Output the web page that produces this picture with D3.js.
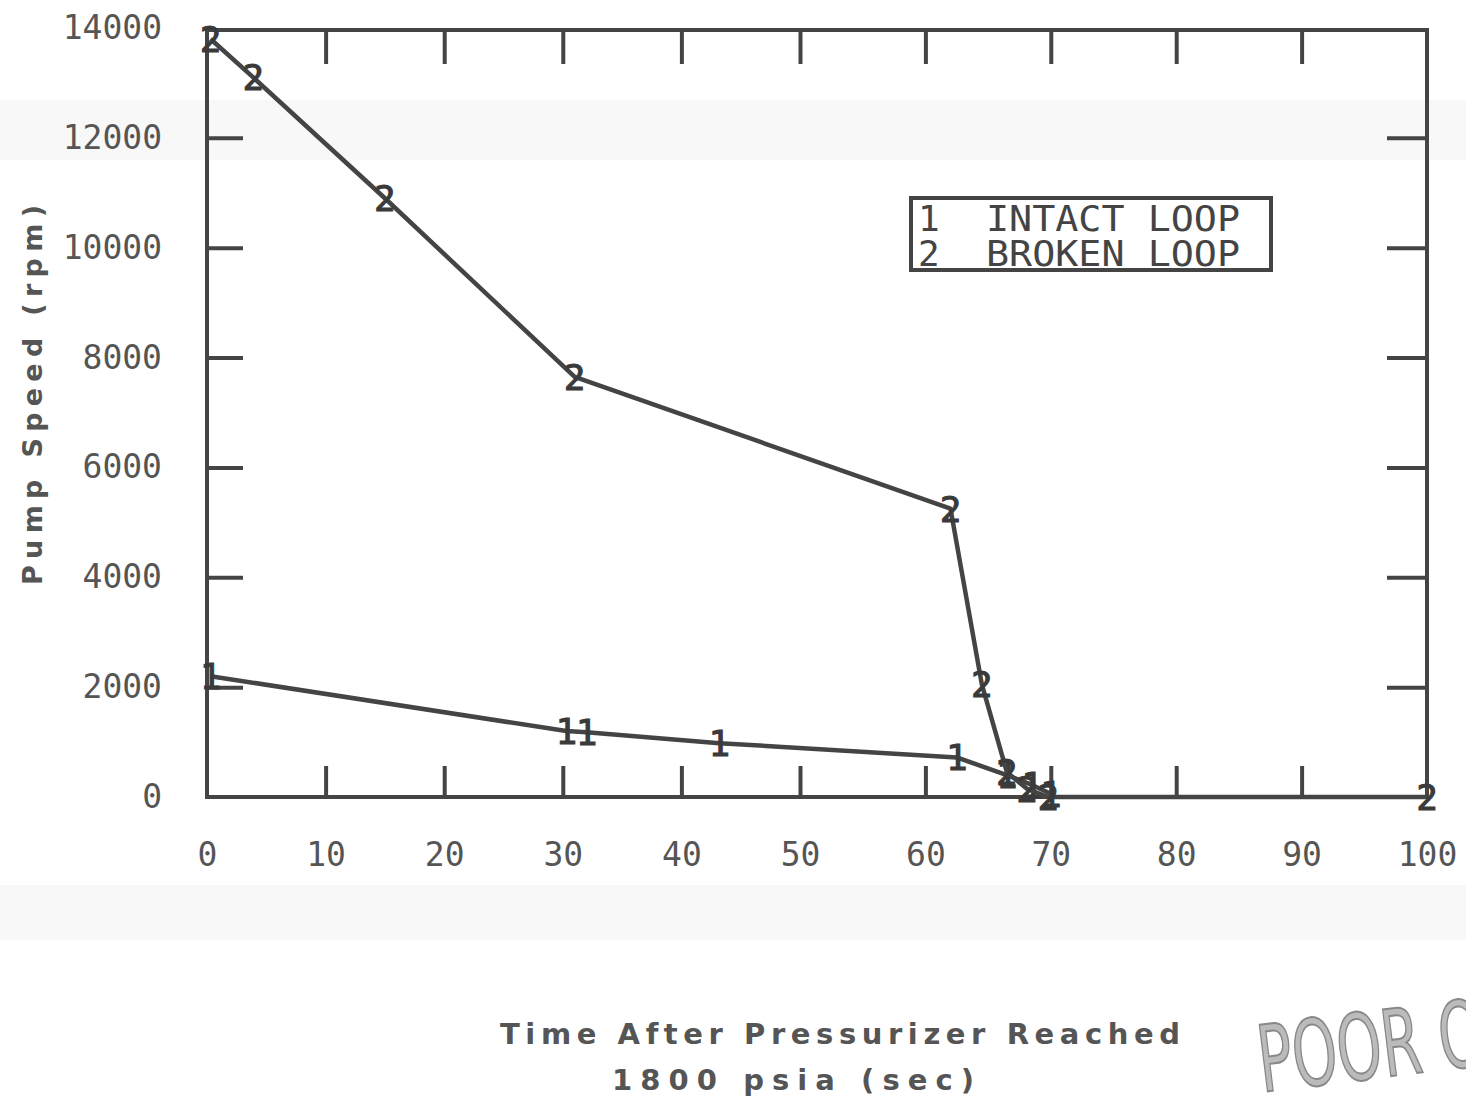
<!DOCTYPE html>
<html>
<head>
<meta charset="utf-8">
<script src="https://cdn.jsdelivr.net/npm/d3@7"></script>
<style>
  html, body { margin: 0; padding: 0; background: #fff; }
  svg { display: block; }
</style>
</head>
<body>
<svg id="chart" width="1466" height="1096"></svg>
<script>
// ---- data ----
const xTicks = [0, 10, 20, 30, 40, 50, 60, 70, 80, 90, 100];
const yTicks = [0, 2000, 4000, 6000, 8000, 10000, 12000, 14000];
const seriesNames = ["INTACT LOOP", "BROKEN LOOP"];
const seriesMarks = ["1", "2"];
const intactTime  = [0.3, 30.3, 32.0, 43.2, 62.5, 66.5, 68.5, 70.0];
const intactSpeed = [2200, 1200, 1180, 980, 720, 400, 220, 60];
const brokenTime  = [0.3, 3.9, 15.0, 31.0, 62.0, 64.5, 66.5, 68.1, 69.8, 100];
const brokenSpeed = [13800, 13100, 10900, 7650, 5250, 2050, 450, 150, 0, 0];
const xTitle1 = "Time After Pressurizer Reached";
const xTitle2 = "1800 psia (sec)";
const yTitle = "Pump Speed (rpm)";

const svg = d3.select("#chart");
const ink = "#444";
const mono = "'DejaVu Sans Mono', 'Liberation Mono', monospace";

// faint scan bands
svg.append("rect").attr("x", 0).attr("y", 100).attr("width", 1466).attr("height", 60).attr("fill", "#f8f8f8");
svg.append("rect").attr("x", 0).attr("y", 885).attr("width", 1466).attr("height", 55).attr("fill", "#f8f8f8");

const x = d3.scaleLinear().domain([0, 50, 100]).range([207, 800, 1427]);
const y = d3.scaleLinear().domain([0, 14000]).range([797, 28]);

// frame
svg.append("rect")
  .attr("x", x(0)).attr("y", y(14000) + 2)
  .attr("width", x(100) - x(0)).attr("height", y(0) - y(14000) - 2)
  .attr("fill", "none").attr("stroke", ink).attr("stroke-width", 4);

function styleAxis(g) {
  g.select(".domain").remove();
  g.selectAll(".tick line").attr("stroke", ink).attr("stroke-width", 4);
  g.selectAll(".tick text").attr("fill", "#555").attr("font-family", mono).attr("font-size", 33);
}

const inner = xTicks.slice(1, -1);
const innerY = yTicks.slice(1, -1);

// bottom axis with labels
svg.append("g").attr("transform", `translate(0,${y(0)})`)
  .call(d3.axisBottom(x).tickValues(xTicks).tickFormat(d3.format("d")).tickSizeInner(0).tickSizeOuter(0).tickPadding(46))
  .call(styleAxis);
svg.append("g").attr("transform", `translate(0,${y(0)})`)
  .call(d3.axisBottom(x).tickValues(inner).tickFormat("").tickSizeInner(-31).tickSizeOuter(0))
  .call(styleAxis);
// top ticks
svg.append("g").attr("transform", `translate(0,${y(14000) + 2})`)
  .call(d3.axisTop(x).tickValues(inner).tickFormat("").tickSizeInner(-34).tickSizeOuter(0))
  .call(styleAxis);
// left axis with labels
svg.append("g").attr("transform", `translate(${x(0)},0)`)
  .call(d3.axisLeft(y).tickValues(yTicks).tickFormat(d3.format("d")).tickSizeInner(0).tickSizeOuter(0).tickPadding(45))
  .call(styleAxis);
svg.append("g").attr("transform", `translate(${x(0)},0)`)
  .call(d3.axisLeft(y).tickValues(innerY).tickFormat("").tickSizeInner(-36).tickSizeOuter(0))
  .call(styleAxis);
// right ticks
svg.append("g").attr("transform", `translate(${x(100)},0)`)
  .call(d3.axisRight(y).tickValues(innerY).tickFormat("").tickSizeInner(-40).tickSizeOuter(0))
  .call(styleAxis);

// series
const series = [
  { mark: seriesMarks[0], pts: intactTime.map((t, i) => [t, intactSpeed[i]]) },
  { mark: seriesMarks[1], pts: brokenTime.map((t, i) => [t, brokenSpeed[i]]) }
];
const line = d3.line().x(d => x(d[0])).y(d => y(d[1]));
series.forEach(s => {
  svg.append("path").attr("d", line(s.pts))
    .attr("fill", "none").attr("stroke", ink).attr("stroke-width", 4.5)
    .attr("stroke-linejoin", "round");
  svg.append("g").selectAll("text").data(s.pts).join("text")
    .attr("x", d => x(d[0])).attr("y", d => y(d[1]))
    .attr("dy", "0.36em").attr("text-anchor", "middle")
    .attr("font-family", mono).attr("font-size", 36)
    .attr("fill", "#3a3a3a").attr("stroke", "#3a3a3a").attr("stroke-width", 1)
    .text(s.mark);
});

// legend
const lg = svg.append("g");
lg.append("rect").attr("x", 911).attr("y", 198).attr("width", 360).attr("height", 72)
  .attr("fill", "#fff").attr("stroke", ink).attr("stroke-width", 4);
seriesNames.forEach((name, i) => {
  const by = 231 + i * 35;
  lg.append("text").attr("x", 918).attr("y", by)
    .attr("font-family", mono).attr("font-size", 36).attr("fill", "#444")
    .text(seriesMarks[i]);
  lg.append("text").attr("x", 986).attr("y", by)
    .attr("font-family", mono).attr("font-size", 36).attr("fill", "#444")
    .attr("textLength", 254).attr("lengthAdjust", "spacingAndGlyphs")
    .text(name);
});

// axis titles
const titleFont = "'DejaVu Sans', Verdana, sans-serif";
svg.append("text").attr("x", 840).attr("y", 1044).attr("text-anchor", "middle")
  .attr("font-family", titleFont).attr("font-weight", "bold").attr("font-size", 29)
  .attr("fill", "#555").attr("textLength", 680).attr("lengthAdjust", "spacing")
  .text(xTitle1);
svg.append("text").attr("x", 793).attr("y", 1090).attr("text-anchor", "middle")
  .attr("font-family", titleFont).attr("font-weight", "bold").attr("font-size", 29)
  .attr("fill", "#555").attr("textLength", 362).attr("lengthAdjust", "spacing")
  .text(xTitle2);
svg.append("text").attr("transform", "translate(42,395) rotate(-90)")
  .attr("text-anchor", "middle")
  .attr("font-family", titleFont).attr("font-weight", "bold").attr("font-size", 27)
  .attr("fill", "#555").attr("textLength", 380).attr("lengthAdjust", "spacing")
  .text(yTitle);

// stamp
svg.append("text").attr("transform", "translate(1262,1092) rotate(-7) scale(0.62,1)")
  .attr("font-family", "'DejaVu Sans', sans-serif").attr("font-size", 92)
  .attr("fill", "#bbb").attr("stroke", "#888").attr("stroke-width", 2)
  .text("POOR OR");
</script>
</body>
</html>
